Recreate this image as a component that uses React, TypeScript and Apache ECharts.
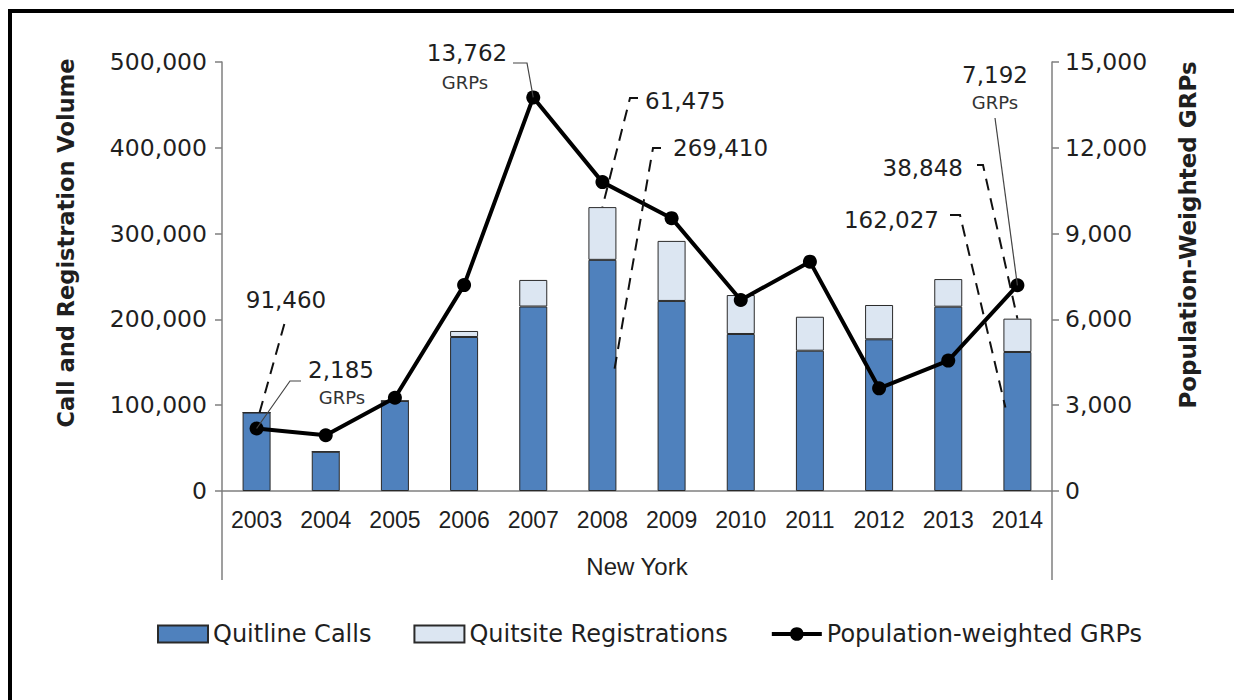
import React, { useEffect, useRef } from "react";
import * as echarts from "echarts";

const years = ["2003", "2004", "2005", "2006", "2007", "2008", "2009", "2010", "2011", "2012", "2013", "2014"];
const quitlineCalls = [91460, 45800, 105000, 179500, 215000, 269410, 221500, 183000, 163500, 176800, 214800, 162027];
const quitsiteRegistrations = [0, 0, 0, 7000, 31000, 61475, 70000, 45400, 39600, 40000, 32200, 38848];
const grps = [2185, 1950, 3260, 7200, 13762, 10800, 9540, 6680, 8020, 3590, 4560, 7192];

const leftMax = 500000;
const leftInterval = 100000;
const rightMax = 15000;
const rightInterval = 3000;

const FONT = '"DejaVu Sans", "Liberation Sans", Arial, sans-serif';
const FONT_NARROW = '"Liberation Sans", Arial, sans-serif';
const TXT = "#1f1f1f";
const AXIS = "#7f7f7f";

const GRID = { left: 222, right: 182, top: 62, bottom: 209 };

const fmt = (v: number) => Math.round(v).toLocaleString("en-US");

export default function App() {
  const ref = useRef<HTMLDivElement>(null);

  useEffect(() => {
    document.body.style.margin = "0";
    const chart = echarts.init(ref.current!, null, { renderer: "svg" });

    const option: any = {
      animation: false,
      backgroundColor: "#ffffff",
      textStyle: { fontFamily: FONT, color: TXT },
      grid: { ...GRID, containLabel: false },
      legend: {
        left: 152,
        top: 617,
        itemWidth: 50,
        itemHeight: 17,
        itemGap: 42,
        textStyle: { fontFamily: FONT, fontSize: 24, color: TXT },
        data: [
          { name: "Quitline Calls", icon: "rect" },
          { name: "Quitsite Registrations", icon: "rect" },
          { name: "Population-weighted GRPs", lineStyle: { width: 4, color: "#000" } },
        ],
      },
      xAxis: {
        type: "category",
        data: years,
        axisLine: { lineStyle: { color: AXIS, width: 1.5 } },
        axisTick: { show: false },
        axisLabel: { interval: 0, fontFamily: FONT_NARROW, fontSize: 23, color: TXT, margin: 17 },
        name: "New York",
        nameLocation: "middle",
        nameGap: 63,
        nameTextStyle: { fontFamily: FONT_NARROW, fontSize: 24, color: TXT },
      },
      yAxis: [
        {
          type: "value",
          min: 0,
          max: leftMax,
          interval: leftInterval,
          position: "left",
          splitLine: { show: false },
          axisLine: { show: true, lineStyle: { color: AXIS, width: 1.5 } },
          axisTick: { show: true, length: 7, lineStyle: { color: AXIS, width: 1.5 } },
          axisLabel: { fontFamily: FONT, fontSize: 23.5, color: TXT, margin: 15, formatter: fmt },
        },
        {
          type: "value",
          min: 0,
          max: rightMax,
          interval: rightInterval,
          position: "right",
          splitLine: { show: false },
          axisLine: { show: true, lineStyle: { color: AXIS, width: 1.5 } },
          axisTick: { show: true, length: 7, lineStyle: { color: AXIS, width: 1.5 } },
          axisLabel: { fontFamily: FONT, fontSize: 23.5, color: TXT, margin: 13, formatter: fmt },
        },
      ],
      series: [
        {
          name: "Quitline Calls",
          type: "bar",
          stack: "volume",
          barWidth: 28,
          data: quitlineCalls,
          itemStyle: { color: "#4F81BD", borderColor: "#2a2a2a", borderWidth: 1 },
        },
        {
          name: "Quitsite Registrations",
          type: "bar",
          stack: "volume",
          barWidth: 28,
          data: quitsiteRegistrations,
          itemStyle: { color: "#DCE6F2", borderColor: "#2a2a2a", borderWidth: 1 },
        },
        {
          name: "Population-weighted GRPs",
          type: "line",
          yAxisIndex: 1,
          data: grps,
          symbol: "circle",
          symbolSize: 14,
          lineStyle: { color: "#000000", width: 4 },
          itemStyle: { color: "#000000" },
          z: 5,
        },
      ],
    };
    chart.setOption(option);

    const pt = (i: number, v: number, axis: number) =>
      chart.convertToPixel({ xAxisIndex: 0, yAxisIndex: axis }, [years[i], v]) as number[];

    const dash = { stroke: "#111111", lineWidth: 2, lineDash: [12, 8], fill: null };
    const thin = { stroke: "#444444", lineWidth: 1.2, fill: null };
    const numText = (x: number, y: number, text: string, align = "center") => ({
      type: "text",
      x,
      y,
      z: 20,
      style: { text, fontFamily: FONT, fontSize: 23, fill: TXT, align, verticalAlign: "middle" },
    });
    const grpText = (x: number, y: number) => ({
      type: "text",
      x,
      y,
      z: 20,
      style: { text: "GRPs", fontFamily: FONT, fontSize: 18, fill: "#333333", align: "center", verticalAlign: "middle" },
    });
    const axisTitle = (x: number, y: number, text: string, size: number) => ({
      type: "text",
      x,
      y,
      rotation: Math.PI / 2,
      z: 20,
      style: { text, fontFamily: FONT, fontSize: size, fontWeight: "bold", fill: TXT, align: "center", verticalAlign: "middle" },
    });
    const poly = (points: number[][], style: any) => ({ type: "polyline", z: 15, shape: { points }, style });

    const i03 = 0, i07 = 4, i08 = 5, i14 = 11;
    const a03bar = pt(i03, quitlineCalls[i03], 0);
    const a03dot = pt(i03, grps[i03], 1);
    const a07dot = pt(i07, grps[i07], 1);
    const a08top = pt(i08, quitlineCalls[i08] + quitsiteRegistrations[i08], 0);
    const a08mid = pt(i08, quitlineCalls[i08] * 0.5, 0);
    const a14top = pt(i14, quitlineCalls[i14] + quitsiteRegistrations[i14], 0);
    const a14mid = pt(i14, quitlineCalls[i14] * 0.6, 0);
    const a14dot = pt(i14, grps[i14], 1);

    const graphic: any[] = [
      { type: "rect", shape: { x: 8, y: 9, width: 1226, height: 4 }, style: { fill: "#000" }, z: 30 },
      { type: "rect", shape: { x: 8, y: 9, width: 4, height: 691 }, style: { fill: "#000" }, z: 30 },
      { type: "line", shape: { x1: GRID.left, y1: 700 - GRID.bottom, x2: GRID.left, y2: 580 }, style: { stroke: AXIS, lineWidth: 1.5 } },
      { type: "line", shape: { x1: 1234 - GRID.right, y1: 700 - GRID.bottom, x2: 1234 - GRID.right, y2: 580 }, style: { stroke: AXIS, lineWidth: 1.5 } },
      axisTitle(66, 243, "Call and Registration Volume", 22.5),
      axisTitle(1188, 235, "Population-Weighted GRPs", 23),
      // 2003 calls
      poly([[a03bar[0] + 3, a03bar[1]], [286, 318]], dash),
      numText(286, 300, fmt(quitlineCalls[i03])),
      // 2003 GRPs
      poly([[a03dot[0], a03dot[1]], [290, 381], [301, 381]], thin),
      numText(341, 370, fmt(grps[i03])),
      grpText(342, 397),
      // 2007 GRPs
      poly([[513, 63], [527, 63], [a07dot[0], a07dot[1]]], thin),
      numText(467, 53, fmt(grps[i07])),
      grpText(465, 82),
      // 2008 registrations
      poly([[638, 98], [630, 98], [a08top[0], a08top[1]]], dash),
      numText(645, 101, fmt(quitsiteRegistrations[i08]), "left"),
      // 2008 calls
      poly([[661, 148], [653, 148], [a08mid[0] + 11, a08mid[1]]], dash),
      numText(673, 148, fmt(quitlineCalls[i08]), "left"),
      // 2014 calls
      poly([[950, 215], [960, 215], [a14mid[0] - 12, a14mid[1]]], dash),
      numText(939, 220, fmt(quitlineCalls[i14]), "right"),
      // 2014 registrations
      poly([[977, 165], [983, 165], [a14top[0], a14top[1]]], dash),
      numText(963, 168, fmt(quitsiteRegistrations[i14]), "right"),
      // 2014 GRPs
      poly([[995, 118], [a14dot[0], a14dot[1]]], thin),
      numText(995, 75, fmt(grps[i14])),
      grpText(995, 102),
    ];
    chart.setOption({ graphic });

    return () => chart.dispose();
  }, []);

  return <div ref={ref} style={{ width: 1234, height: 700 }} />;
}
